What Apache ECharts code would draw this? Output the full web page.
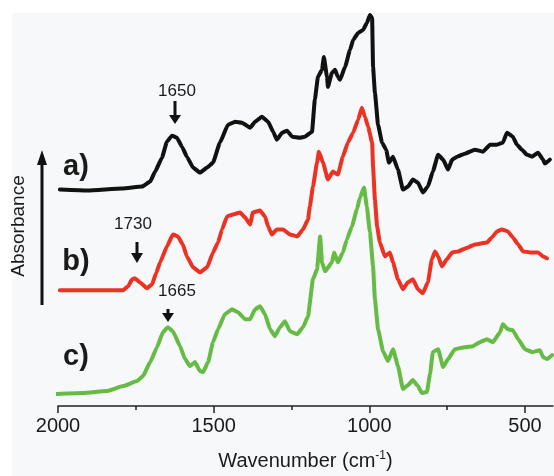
<!DOCTYPE html>
<html><head><meta charset="utf-8">
<script src="https://cdn.jsdelivr.net/npm/echarts@6/dist/echarts.min.js"></script>
<style>html,body{margin:0;padding:0;background:#fff}#c{width:554px;height:476px}</style>
</head><body><div id="c"></div>
<script>
// Spectrum a) (black)
const wnA=[1994,1904,1794,1730,1704,1688,1666,1650,1634,1618,1602,1586,1566,1544,1521,1502,1480,1454,1431,1409,1383,1367,1345,1325,1309,1297,1280,1264,1248,1223,1207,1184,1175,1165,1152,1146,1136,1133,1120,1110,1101,1094,1078,1062,1052,1036,1020,1008,998,991,988,982,972,959,946,937,924,908,892,876,860,844,828,812,796,779,763,747,734,718,693,661,635,612,590,571,558,539,526,510,494,477,458,442,436,420];
const absA=[217,216,218,220,225,235,249,265,271,269,260,250,239,234,239,244,264,282,285,284,279,285,290,285,275,267,274,276,270,269,270,275,307,330,337,350,330,320,334,337,330,327,340,357,367,374,377,384,392,389,340,314,282,264,257,244,250,237,217,220,227,224,214,220,235,252,247,237,247,250,253,257,255,262,262,264,274,270,262,257,252,250,254,247,243,247];
// Spectrum b) (red)
const wnB=[1994,1791,1775,1762,1753,1737,1714,1698,1685,1672,1650,1631,1615,1599,1586,1566,1544,1521,1502,1486,1473,1457,1438,1415,1399,1383,1374,1351,1335,1325,1313,1297,1277,1255,1232,1213,1197,1191,1181,1168,1162,1149,1133,1117,1101,1085,1069,1052,1036,1024,1014,1004,991,988,982,975,966,950,934,924,908,892,876,860,844,828,812,799,789,779,767,751,734,715,683,661,622,606,590,574,555,539,522,506,484,458,442,429];
const absB=[116,116,120,127,128,124,118,122,133,144,160,172,170,162,150,139,134,139,154,164,177,190,192,194,189,182,194,196,190,180,172,177,177,172,170,177,187,200,220,244,255,244,227,235,232,250,264,274,287,299,290,280,264,240,207,180,164,150,154,144,127,117,124,127,117,113,124,147,155,150,140,147,154,155,159,162,164,169,175,177,175,169,162,155,154,154,150,148];
// Spectrum c) (green)
const wnC=[2015,1920,1843,1791,1746,1727,1704,1682,1663,1647,1631,1608,1592,1576,1560,1544,1534,1518,1502,1486,1464,1441,1422,1399,1383,1367,1351,1335,1319,1303,1287,1271,1255,1232,1213,1197,1181,1168,1158,1152,1142,1120,1113,1101,1085,1072,1056,1040,1030,1017,1008,998,988,982,972,956,940,924,908,892,876,860,844,831,815,805,796,779,763,747,725,693,667,645,622,603,580,571,555,539,522,500,477,452,442,429,413];
const absC=[12,13,15,20,25,30,44,59,74,79,75,60,47,40,44,35,34,44,64,77,92,97,94,87,87,97,100,92,77,70,79,85,75,72,79,90,127,137,170,144,135,144,154,144,154,167,180,197,209,219,200,174,140,107,77,55,45,57,40,17,21,26,20,13,14,32,54,57,39,47,57,59,60,64,67,64,74,82,77,76,67,57,54,56,49,47,51];

const majorTicks=[2000,1500,1000,500];
const minorTicks=[1750,1250,750];
const seriesLabels=['a)','b)','c)'];
const peakLabels=['1650','1730','1665'];

const FONT='"Liberation Sans", Arial, Helvetica, sans-serif';
const TXT='#1a1a1a';
const zip=(x,y)=>x.map((v,i)=>[v,y[i]]);
const chart=echarts.init(document.getElementById('c'),null,{renderer:'canvas'});
const xBase={type:'value',inverse:true,min:410,max:2000,position:'bottom',splitLine:{show:false}};
const lineSeries=(data,color,clip)=>({type:'line',data,showSymbol:false,smooth:0.12,smoothMonotone:'x',clip:clip,
  lineStyle:{color,width:4,join:'round',cap:'round'},z:3});

function arrow(x,y1,y2,hw,hh){
  return [
    {type:'line',shape:{x1:x,y1:y1,x2:x,y2:y2-hh+1},style:{stroke:'#111',lineWidth:3},silent:true,z:10},
    {type:'polygon',shape:{points:[[x-hw,y2-hh],[x+hw,y2-hh],[x,y2]]},style:{fill:'#111'},silent:true,z:10}
  ];
}
const txt=(x,y,t,size,bold,extra)=>Object.assign({type:'text',x,y,silent:true,z:10,
  style:{text:t,fontSize:size,fontFamily:FONT,fontWeight:bold?'bold':'normal',fill:TXT,align:'center',verticalAlign:'middle'}},extra||{});

chart.setOption({
  animation:false,
  backgroundColor:'#fff',
  grid:{left:58,right:1,top:10,bottom:69},
  xAxis:[
    Object.assign({},xBase,{
      axisLine:{lineStyle:{color:'#222',width:1.5}},
      axisTick:{show:true,length:7,lineStyle:{color:'#222',width:1.5},customValues:majorTicks},
      axisLabel:{customValues:majorTicks,formatter:v=>String(v),fontSize:20,color:TXT,fontFamily:FONT,margin:10},
      name:'{n|Wavenumber (cm}{s|-1}{n|)}',nameLocation:'middle',nameGap:44,
      nameTextStyle:{rich:{n:{fontSize:20,fontFamily:FONT,color:TXT},s:{fontSize:12,fontFamily:FONT,color:TXT,padding:[0,0,10,0]}}}
    }),
    Object.assign({},xBase,{
      axisLine:{show:false},
      axisTick:{show:true,length:4,lineStyle:{color:'#222',width:1.5},customValues:minorTicks},
      axisLabel:{show:false}
    })
  ],
  yAxis:{type:'value',min:0,max:397,show:false},
  series:[
    lineSeries(zip(wnA,absA),'#111111',true),
    lineSeries(zip(wnB,absB),'#ec3223',true),
    lineSeries(zip(wnC,absC),'#66bb44',false)
  ],
  graphic:[
    {type:'rect',shape:{x:12,y:13,width:542,height:463},style:{fill:'#f7f8fa'},z:-1,silent:true},
    txt(76,167,seriesLabels[0],29,true),
    txt(76,262,seriesLabels[1],29,true),
    txt(76,357,seriesLabels[2],29,true),
    txt(19,226,'Absorbance',19,false,{rotation:Math.PI/2}),
    {type:'line',shape:{x1:42,y1:305,x2:42,y2:162},style:{stroke:'#111',lineWidth:3},silent:true,z:10},
    {type:'polygon',shape:{points:[[37,165],[47,165],[42,150]]},style:{fill:'#111'},silent:true,z:10},
    txt(177,91,peakLabels[0],17,false),
    txt(133,224,peakLabels[1],17,false),
    txt(177,291,peakLabels[2],17,false),
    ...arrow(175,101,124,6,9),
    ...arrow(137,242,263,6,10),
    ...arrow(168,309,322,6,9)
  ]
});
</script></body></html>
